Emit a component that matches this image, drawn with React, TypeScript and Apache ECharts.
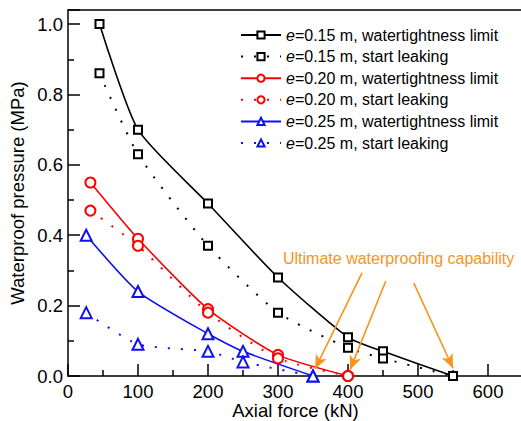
import React, { useEffect, useRef } from "react";
import * as echarts from "echarts";

const FONT = "'Liberation Sans', Arial, sans-serif";

const xBlackLimit = [45, 100, 200, 300, 400, 450, 550];
const yBlackLimit = [1.0, 0.7, 0.49, 0.28, 0.11, 0.07, 0.0];
const xBlackLeak = [45, 100, 200, 300, 400, 450, 550];
const yBlackLeak = [0.86, 0.63, 0.37, 0.18, 0.08, 0.05, 0.0];

const xRedLimit = [32, 100, 200, 300, 400];
const yRedLimit = [0.55, 0.39, 0.19, 0.06, 0.0];
const xRedLeak = [32, 100, 200, 300, 400];
const yRedLeak = [0.47, 0.37, 0.18, 0.05, 0.0];

const xBlueLimit = [26, 100, 200, 250, 350];
const yBlueLimit = [0.4, 0.24, 0.12, 0.07, 0.0];
const xBlueLeak = [26, 100, 200, 250, 350];
const yBlueLeak = [0.18, 0.09, 0.07, 0.04, 0.0];

const seriesNames = [
  "e=0.15 m, watertightness limit",
  "e=0.15 m, start leaking",
  "e=0.20 m, watertightness limit",
  "e=0.20 m, start leaking",
  "e=0.25 m, watertightness limit",
  "e=0.25 m, start leaking",
];

// arrows of the annotation, start and end points in data units
const arrowStarts = [
  [420, 0.293],
  [454, 0.27],
  [494, 0.264],
];
const arrowEnds = [
  [353, 0.02],
  [403, 0.018],
  [550, 0.022],
];
const annotationText = "Ultimate waterproofing capability";

const zip = (xs: number[], ys: number[]) => xs.map((x, i) => [x, ys[i]]);

export default function App() {
  const ref = useRef<HTMLDivElement>(null);
  useEffect(() => {
    if (!ref.current) return;
    const chart = echarts.init(ref.current, undefined, { renderer: "svg" });
    const mk = (
      name: string,
      data: number[][],
      color: string,
      symbol: string,
      size: number,
      dotted: boolean
    ) => ({
      name,
      type: "line",
      data,
      smooth: 0.2,
      symbol,
      symbolSize: size,
      showSymbol: true,
      itemStyle: { color, borderWidth: 1.5 },
      lineStyle: dotted
        ? { color, width: 2, type: [2, 11] }
        : { color, width: 1.6, type: "solid" },
      z: 3,
    });
    const series: any[] = [
      mk(seriesNames[0], zip(xBlackLimit, yBlackLimit), "#000000", "emptyRect", 8, false),
      mk(seriesNames[1], zip(xBlackLeak, yBlackLeak), "#000000", "emptyRect", 8, true),
      mk(seriesNames[2], zip(xRedLimit, yRedLimit), "#ff0000", "emptyCircle", 10, false),
      mk(seriesNames[3], zip(xRedLeak, yRedLeak), "#ff0000", "emptyCircle", 10, true),
      mk(seriesNames[4], zip(xBlueLimit, yBlueLimit), "#1010ee", "emptyTriangle", 11, false),
      mk(seriesNames[5], zip(xBlueLeak, yBlueLeak), "#1010ee", "emptyTriangle", 11, true),
    ];
    series.push({
      name: "arrows",
      type: "line",
      data: [],
      markLine: {
        silent: true,
        symbol: ["none", "arrow"],
        symbolSize: [9, 14],
        label: { show: false },
        lineStyle: { color: "#f7941d", width: 1.6, type: "solid" },
        data: arrowStarts.map((s, i) => [{ coord: s }, { coord: arrowEnds[i] }]),
      },
    });
    chart.setOption({
      animation: false,
      backgroundColor: "#ffffff",
      textStyle: { fontFamily: FONT },
      grid: { left: 68, top: 10, width: 455, height: 366, outerBoundsMode: "none", containLabel: false },
      legend: {
        data: seriesNames,
        orient: "vertical",
        left: 235,
        top: 22,
        itemWidth: 40,
        itemHeight: 9,
        itemGap: 5.6,
        formatter: (n: string) => "{i|e}" + n.slice(1),
        textStyle: {
          fontFamily: FONT,
          fontSize: 16,
          color: "#000",
          lineHeight: 16,
          rich: { i: { fontStyle: "italic", fontSize: 16, fontFamily: FONT, color: "#000" } },
        },
      },
      graphic: [
        {
          type: "text",
          left: 283,
          top: 250,
          style: { text: annotationText, fill: "#f7941d", font: `16px ${FONT}` },
        },
      ],
      xAxis: [
        {
          type: "value",
          min: 0,
          max: 650,
          interval: 100,
          name: "Axial force (kN)",
          nameLocation: "middle",
          nameGap: 25,
          nameMoveOverlap: false,
          nameTextStyle: { fontSize: 18.5, color: "#000", fontFamily: FONT },
          axisLine: { show: true, lineStyle: { color: "#000", width: 1.5 } },
          axisTick: { show: true, inside: true, length: 12, lineStyle: { color: "#000", width: 1.5 } },
          minorTick: { show: true, splitNumber: 2, length: 6, lineStyle: { color: "#000", width: 1.5 } },
          axisLabel: { fontSize: 18.5, color: "#000", margin: 6, showMaxLabel: false, fontFamily: FONT },
          splitLine: { show: false },
        },
        {
          type: "value",
          position: "top",
          min: 0,
          max: 650,
          axisLine: { show: true, onZero: false, lineStyle: { color: "#000", width: 1.5 } },
          axisTick: { show: false },
          axisLabel: { show: false },
          splitLine: { show: false },
        },
      ],
      yAxis: {
        type: "value",
        min: 0,
        max: 1.04,
        interval: 0.2,
        name: "Waterproof pressure (MPa)",
        nameLocation: "middle",
        nameGap: 41,
        nameMoveOverlap: false,
        nameTextStyle: { fontSize: 18.5, color: "#000", fontFamily: FONT },
        axisLine: { show: true, lineStyle: { color: "#000", width: 1.5 } },
        axisTick: { show: true, inside: true, length: 12, lineStyle: { color: "#000", width: 1.5 } },
        minorTick: { show: true, splitNumber: 2, length: 6, lineStyle: { color: "#000", width: 1.5 } },
        axisLabel: {
          fontSize: 18.5,
          color: "#000",
          margin: 5,
          showMaxLabel: false,
          fontFamily: FONT,
          formatter: (v: number) => v.toFixed(1),
        },
        splitLine: { show: false },
      },
      series,
    });
    return () => chart.dispose();
  }, []);
  return (
    <div
      ref={ref}
      style={{ position: "fixed", left: 0, top: 0, width: 521, height: 421 }}
    />
  );
}
